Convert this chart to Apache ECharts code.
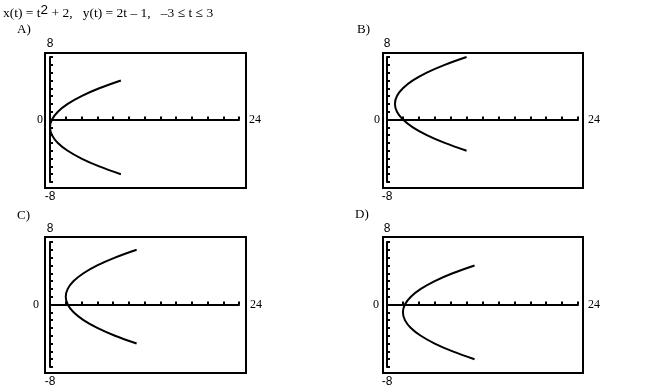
<!DOCTYPE html>
<html>
<head>
<meta charset="utf-8">
<style>html,body{margin:0;padding:0;background:#fff;}#c{width:650px;height:391px;}</style>
<script src="https://cdn.jsdelivr.net/npm/echarts@6/dist/echarts.min.js"></script>
</head>
<body>
<div id="c"></div>
<script>
// ---- data ----
const panelLabels = ['A)', 'B)', 'C)', 'D)'];
const xRange = [0, 24];
const yRange = [-8, 8];
const xTickStep = 2;
const yTickStep = 1;
const yMaxLabel = '8';
const yMinLabel = '-8';
const originLabel = '0';
const xMaxLabel = '24';

const curveAX = [9, 6.25, 4, 2.25, 1, 0.25, 0, 0.25, 1, 2.25, 4, 6.25, 9];
const curveAY = [-7, -6, -5, -4, -3, -2, -1, 0, 1, 2, 3, 4, 5];
const curveBX = [10, 7.25, 5, 3.25, 2, 1.25, 1, 1.25, 2, 3.25, 5, 7.25, 10];
const curveBY = [-4, -3, -2, -1, 0, 1, 2, 3, 4, 5, 6, 7, 8];
const curveCX = [11, 8.25, 6, 4.25, 3, 2.25, 2, 2.25, 3, 4.25, 6, 8.25, 11];
const curveCY = [-5, -4, -3, -2, -1, 0, 1, 2, 3, 4, 5, 6, 7];
const curveDX = [11, 8.25, 6, 4.25, 3, 2.25, 2, 2.25, 3, 4.25, 6, 8.25, 11];
const curveDY = [-7, -6, -5, -4, -3, -2, -1, 0, 1, 2, 3, 4, 5];

const curves = [[curveAX, curveAY], [curveBX, curveBY], [curveCX, curveCY], [curveDX, curveDY]];

// ---- layout ----
const grids = [
  {left: 50, top: 57, width: 189, height: 125},
  {left: 387, top: 57, width: 191, height: 125},
  {left: 50, top: 242, width: 189, height: 125},
  {left: 387, top: 242, width: 191, height: 125}
];
const frames = [
  {x: 45, y: 53, width: 201, height: 135},
  {x: 383, y: 53, width: 200, height: 135},
  {x: 45, y: 237, width: 201, height: 136},
  {x: 383, y: 237, width: 200, height: 136}
];
const labelPos = [
  {left: 17, top: 23}, {left: 357, top: 23}, {left: 17, top: 209}, {left: 355, top: 208}
];
const zeroMargins = [7, 7, 11, 8];
const xNameGaps = [10, 10, 11, 10];

const serif = 'Liberation Serif';
const sans = 'Liberation Sans';

const xAxes = [], yAxes = [], series = [], titles = [], graphics = [];

titles.push({
  left: 3, top: 3, padding: 0,
  text: 'x(t) = t{sup|2} + 2,   y(t) = 2t – 1,   –3 ≤ t ≤ 3',
  textStyle: {
    fontFamily: serif, fontSize: 13.5, fontWeight: 'normal', color: '#000',
    rich: {
      sup: {fontFamily: sans, fontSize: 13.5, color: '#000', padding: [0, 0, 7, 0]}
    }
  }
});

grids.forEach((g, i) => {
  titles.push({
    left: labelPos[i].left, top: labelPos[i].top, padding: 0, text: panelLabels[i],
    textStyle: {fontFamily: serif, fontSize: 13, fontWeight: 'normal', color: '#000'}
  });
  xAxes.push({
    gridIndex: i, type: 'value', min: xRange[0], max: xRange[1], interval: xTickStep,
    name: xMaxLabel, nameLocation: 'end', nameGap: xNameGaps[i],
    nameTextStyle: {fontFamily: serif, fontSize: 12, color: '#000'},
    axisLine: {onZero: true, lineStyle: {color: '#000', width: 2}},
    axisTick: {show: true, inside: true, length: 3, lineStyle: {color: '#000', width: 2}},
    axisLabel: {show: false},
    splitLine: {show: false}
  });
  yAxes.push({
    gridIndex: i, type: 'value', min: yRange[0], max: yRange[1], interval: yTickStep,
    position: 'left',
    name: yMaxLabel, nameLocation: 'end', nameGap: 7,
    nameTextStyle: {fontFamily: sans, fontSize: 12, color: '#000', align: 'center'},
    axisLine: {show: true, onZero: true, lineStyle: {color: '#000', width: 2}},
    axisTick: {show: true, inside: true, length: 3, lineStyle: {color: '#000', width: 2}},
    axisLabel: {
      show: true, margin: zeroMargins[i], fontFamily: serif, fontSize: 12, color: '#000',
      formatter: v => (v === 0 ? originLabel : '')
    },
    splitLine: {show: false}
  });
  yAxes.push({
    gridIndex: i, type: 'value', min: yRange[0], max: yRange[1], inverse: true,
    position: 'left',
    name: yMinLabel, nameLocation: 'end', nameGap: 9,
    nameTextStyle: {fontFamily: sans, fontSize: 12, color: '#000', align: 'center'},
    axisLine: {show: false}, axisTick: {show: false}, axisLabel: {show: false},
    splitLine: {show: false}
  });
  const xs = curves[i][0], ys = curves[i][1];
  series.push({
    type: 'line', xAxisIndex: i, yAxisIndex: 2 * i,
    data: xs.map((x, k) => [x, ys[k]]),
    showSymbol: false, smooth: 0.35, clip: false,
    lineStyle: {color: '#000', width: 2},
    silent: true, animation: false
  });
  graphics.push({
    type: 'rect', shape: frames[i],
    style: {fill: 'none', stroke: '#000', lineWidth: 2}, silent: true
  });
});

const chart = echarts.init(document.getElementById('c'), null, {renderer: 'canvas'});
chart.setOption({
  backgroundColor: '#fff',
  animation: false,
  title: titles,
  grid: grids.map(g => Object.assign({containLabel: false}, g)),
  xAxis: xAxes,
  yAxis: yAxes,
  series: series,
  graphic: graphics
});
</script>
</body>
</html>
